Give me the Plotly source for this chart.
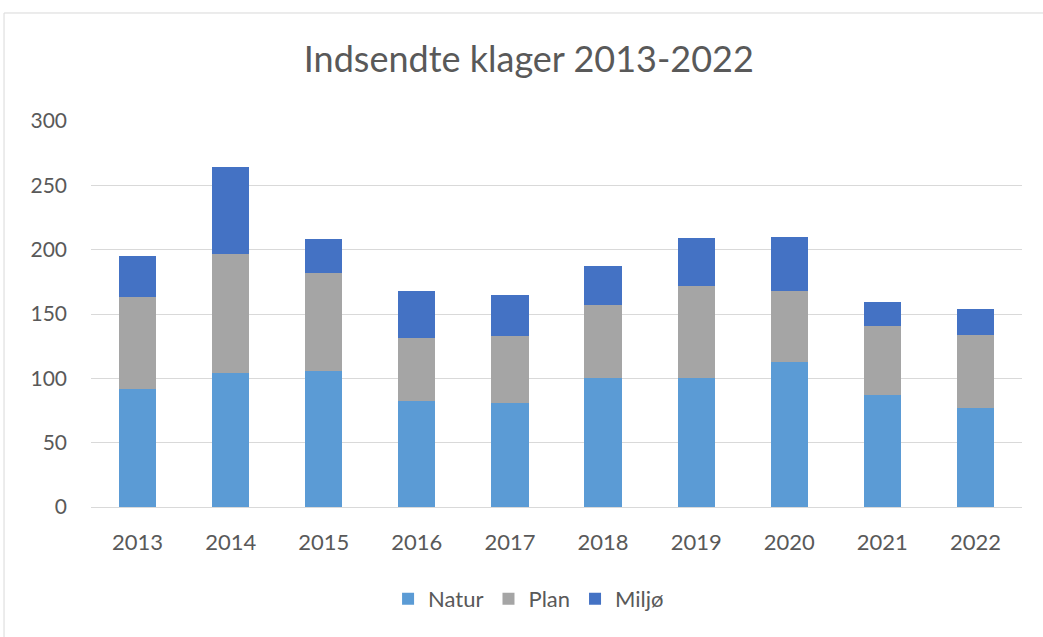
import plotly.graph_objects as go

years = ["2013", "2014", "2015", "2016", "2017", "2018", "2019", "2020", "2021", "2022"]
natur = [92, 104, 106, 82, 81, 100, 100, 113, 87, 77]
plan = [71, 93, 76, 49, 52, 57, 72, 55, 54, 57]
miljo = [32, 67, 26, 37, 32, 30, 37, 42, 18, 20]

title_text = "Indsendte klager 2013-2022"
y_ticks = [0, 50, 100, 150, 200, 250, 300]

fig = go.Figure()
fig.add_trace(go.Bar(name="Natur", x=years, y=natur, marker=dict(color="#5B9BD5", line=dict(width=0))))
fig.add_trace(go.Bar(name="Plan", x=years, y=plan, marker=dict(color="#A5A5A5", line=dict(width=0))))
fig.add_trace(go.Bar(name="Miljø", x=years, y=miljo, marker=dict(color="#4472C4", line=dict(width=0))))

font_family = "Lato, Carlito, Calibri, sans-serif"
fig.update_layout(
    barmode="stack",
    bargap=0.6,
    width=1043,
    height=637,
    margin=dict(l=91, r=21, t=121, b=130),
    paper_bgcolor="white",
    plot_bgcolor="white",
    font=dict(family=font_family, color="#595959", size=22),
    title=dict(text=title_text, x=0.507, xanchor="center", y=0.906, yanchor="middle",
               font=dict(size=36, color="#595959", family=font_family)),
    xaxis=dict(showgrid=False, ticks="", showline=False, tickfont=dict(size=22),
               ticklabelstandoff=20),
    yaxis=dict(range=[0, 300], tickvals=y_ticks, showgrid=True, gridcolor="#D9D9D9",
               gridwidth=1, zeroline=True, zerolinecolor="#D9D9D9", zerolinewidth=1,
               showline=False, ticks="", tickfont=dict(size=21), ticklabelstandoff=23),
    legend=dict(orientation="h", x=0.47, xanchor="center", y=-0.238, yanchor="middle",
                font=dict(size=22), itemwidth=30, traceorder="normal"),
    showlegend=True,
    shapes=[dict(type="rect", xref="paper", yref="paper", x0=-0.0934, x1=1.1, y0=-0.5, y1=1.2798,
                 line=dict(color="#D9D9D9", width=1), fillcolor="rgba(0,0,0,0)", layer="below")],
)

fig.write_html("out.html", config={"displayModeBar": False},
               post_script="document.body.style.margin='0';")
